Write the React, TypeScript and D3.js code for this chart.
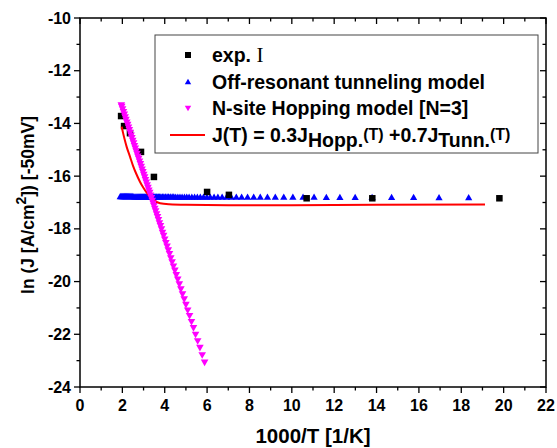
import React from "react";
import * as d3 from "d3";

// exp. I (black squares)
const expX = [1.94, 2.08, 2.36, 2.88, 3.49, 6.0, 7.03, 10.7, 13.8, 19.8];
const expY = [-13.72, -14.1, -14.37, -15.08, -16.03, -16.6, -16.71, -16.84, -16.84, -16.84];

// Off-resonant tunneling model (blue up-triangles)
const tunX = [
  1.9, 1.95, 2.0, 2.05, 2.1, 2.15, 2.2, 2.25, 2.3, 2.35, 2.4, 2.45, 2.5, 2.55, 2.6, 2.65,
  2.7, 2.75, 2.8, 2.85, 2.9, 2.95, 3.0, 3.05, 3.1, 3.15, 3.2, 3.25, 3.3, 3.35, 3.4, 3.45,
  3.5, 3.55, 3.6, 3.64, 3.7, 3.76, 3.82, 3.89, 3.96, 4.03, 4.11, 4.18, 4.26, 4.35, 4.43,
  4.52, 4.62, 4.72, 4.82, 4.93, 5.04, 5.15, 5.28, 5.41, 5.54, 5.68, 5.83, 5.99, 6.15, 6.33,
  6.51, 6.71, 6.92, 7.14, 7.38, 7.63, 7.91, 8.2, 8.51, 8.85, 9.22, 9.62, 10.05, 10.53,
  11.05, 11.63, 12.27, 12.99, 13.79, 14.71, 15.75, 16.95, 18.35,
];
const tunY = [
  -16.78, -16.78, -16.78, -16.78, -16.78, -16.78, -16.78, -16.78, -16.78, -16.78, -16.78,
  -16.78, -16.78, -16.79, -16.79, -16.79, -16.79, -16.79, -16.79, -16.79, -16.79, -16.79,
  -16.79, -16.79, -16.79, -16.79, -16.79, -16.79, -16.79, -16.79, -16.79, -16.79, -16.79,
  -16.79, -16.79, -16.79, -16.79, -16.79, -16.79, -16.79, -16.79, -16.79, -16.79, -16.79,
  -16.79, -16.79, -16.79, -16.8, -16.8, -16.8, -16.8, -16.8, -16.8, -16.8, -16.8, -16.8,
  -16.8, -16.8, -16.8, -16.8, -16.8, -16.8, -16.8, -16.8, -16.8, -16.8, -16.8, -16.8,
  -16.8, -16.8, -16.8, -16.8, -16.8, -16.8, -16.8, -16.8, -16.8, -16.81, -16.81, -16.81,
  -16.81, -16.81, -16.81, -16.82, -16.82,
];

// N-site Hopping model [N=3] (magenta down-triangles)
const hopX = [
  1.95, 1.97, 2.01, 2.05, 2.09, 2.13, 2.17, 2.21, 2.25, 2.29, 2.33, 2.37, 2.41, 2.45, 2.49,
  2.53, 2.57, 2.61, 2.65, 2.69, 2.73, 2.77, 2.81, 2.85, 2.89, 2.93, 2.97, 3.01, 3.05, 3.09,
  3.13, 3.17, 3.21, 3.25, 3.29, 3.33, 3.37, 3.41, 3.45, 3.49, 3.53, 3.571, 3.614, 3.659,
  3.704, 3.75, 3.797, 3.846, 3.896, 3.947, 4.0, 4.054, 4.11, 4.167, 4.225, 4.286, 4.348,
  4.412, 4.478, 4.545, 4.615, 4.688, 4.762, 4.839, 4.918, 5.0, 5.085, 5.172, 5.263, 5.357,
  5.455, 5.556, 5.66, 5.769, 5.882,
];
const hopY = [
  -13.3, -13.35, -13.45, -13.55, -13.65, -13.75, -13.85, -13.95, -14.04, -14.14, -14.24,
  -14.34, -14.44, -14.54, -14.64, -14.74, -14.84, -14.94, -15.04, -15.14, -15.24, -15.33,
  -15.43, -15.53, -15.63, -15.73, -15.83, -15.93, -16.03, -16.13, -16.23, -16.33, -16.43,
  -16.53, -16.62, -16.72, -16.82, -16.92, -17.02, -17.12, -17.22, -17.32, -17.43, -17.54,
  -17.65, -17.77, -17.88, -18.0, -18.13, -18.25, -18.39, -18.52, -18.66, -18.8, -18.94,
  -19.1, -19.25, -19.41, -19.57, -19.74, -19.91, -20.09, -20.28, -20.47, -20.66, -20.87,
  -21.08, -21.29, -21.52, -21.75, -22.0, -22.25, -22.5, -22.78, -23.06,
];

// J(T) = 0.3 J_Hopp + 0.7 J_Tunn (red line)
const mixX = [1.97, 2.03, 2.1, 2.2, 2.36, 2.5, 2.65, 2.83, 3.0, 3.15, 3.3, 3.5, 3.78, 4.2, 5.0, 7.0, 10.0, 14.0, 19.12];
const mixY = [-14.12, -14.35, -14.58, -14.88, -15.26, -15.6, -15.9, -16.21, -16.45, -16.63, -16.78, -16.92, -17.03, -17.07, -17.09, -17.1, -17.1, -17.09, -17.08];

const xTicks = [0, 2, 4, 6, 8, 10, 12, 14, 16, 18, 20, 22];
const yTicks = [-10, -12, -14, -16, -18, -20, -22, -24];

const W = 557;
const H = 448;
const FONT = "Arial, 'Liberation Sans', sans-serif";

export default function App() {
  const x = d3.scaleLinear().domain([0, 22]).range([80, 546]);
  const y = d3.scaleLinear().domain([-24, -10]).range([387, 18]);

  const minorX = d3.range(0, 23, 1);
  const minorY = d3.range(-24, -9, 1);

  const sq = 6.5;
  const triUp = (cx: number, cy: number, s = 7.2, h = 6.4) =>
    `M${cx},${cy - h * 0.6}L${cx + s / 2},${cy + h * 0.4}L${cx - s / 2},${cy + h * 0.4}Z`;
  const triDown = (cx: number, cy: number, s = 7.6, h = 6.6) =>
    `M${cx},${cy + h * 0.6}L${cx + s / 2},${cy - h * 0.4}L${cx - s / 2},${cy - h * 0.4}Z`;

  const line = d3
    .line<number>()
    .x((_, i) => x(mixX[i]))
    .y((d) => y(d))
    .curve(d3.curveMonotoneX);

  const x0 = x(0), x1 = x(22), yTop = y(-10), yBot = y(-24);

  return (
    <svg width={W} height={H} style={{ position: "absolute", left: 0, top: 0 }} fontFamily={FONT}>
      <rect x={0} y={0} width={W} height={H} fill="white" />
      <rect x={x0} y={yTop} width={x1 - x0} height={yBot - yTop} fill="none" stroke="black" strokeWidth={1.5} />
      {minorX.map((v) => (
        <line key={"bx" + v} x1={x(v)} x2={x(v)} y1={yBot} y2={yBot + (v % 2 === 0 ? 6 : 3.5)} stroke="black" strokeWidth={1.3} />
      ))}
      {minorX.map((v) => (
        <line key={"tx" + v} x1={x(v)} x2={x(v)} y1={yTop} y2={yTop + (v % 2 === 0 ? 6 : 3.5)} stroke="black" strokeWidth={1.3} />
      ))}
      {minorY.map((v) => (
        <line key={"ly" + v} x1={x0} x2={x0 - (v % 2 === 0 ? 6 : 3.5)} y1={y(v)} y2={y(v)} stroke="black" strokeWidth={1.3} />
      ))}
      {minorY.map((v) => (
        <line key={"ry" + v} x1={x1} x2={x1 - (v % 2 === 0 ? 6 : 3.5)} y1={y(v)} y2={y(v)} stroke="black" strokeWidth={1.3} />
      ))}
      {xTicks.map((v) => (
        <text key={"xt" + v} x={x(v)} y={yBot + 24} textAnchor="middle" fontSize={16} fontWeight="bold">
          {v}
        </text>
      ))}
      {yTicks.map((v) => (
        <text key={"yt" + v} x={x0 - 9} y={y(v) + 5.5} textAnchor="end" fontSize={16} fontWeight="bold">
          {v}
        </text>
      ))}
      <text x={313} y={443} textAnchor="middle" fontSize={20.5} fontWeight="bold">
        1000/T [1/K]
      </text>
      <text transform={`translate(34,205) rotate(-90)`} textAnchor="middle" fontSize={17.5} fontWeight="bold">
        ln (J [A/cm<tspan dy={-8} fontSize={14}>2</tspan>
        <tspan dy={8}>]) [-50mV]</tspan>
      </text>

      <g>
        {tunX.map((v, i) => (
          <path key={"tu" + i} d={triUp(x(v), y(tunY[i]))} fill="#0000ff" />
        ))}
        {expX.map((v, i) => (
          <rect key={"ex" + i} x={x(v) - sq / 2} y={y(expY[i]) - sq / 2} width={sq} height={sq} fill="black" />
        ))}
        <path d={line(mixY) || ""} fill="none" stroke="#ff0000" strokeWidth={2} />
        {hopX.map((v, i) => (
          <path key={"ho" + i} d={triDown(x(v), y(hopY[i]))} fill="#ff00ff" />
        ))}
      </g>

      <rect x={155} y={35} width={383} height={118} fill="white" stroke="#444" strokeWidth={1} />
      <rect x={188 - 3} y={55 - 3} width={6} height={6} fill="black" />
      <text x={212} y={62} fontSize={19.5} fontWeight="bold">
        exp. <tspan fontFamily="'Liberation Serif', 'Times New Roman', serif" fontWeight="normal" fontSize={21}>I</tspan>
      </text>
      <path d={triUp(188, 82, 6.4, 5.6)} fill="#0000ff" />
      <text x={212} y={89} fontSize={19.5} fontWeight="bold">
        Off-resonant tunneling model
      </text>
      <path d={triDown(188, 108, 6.4, 5.6)} fill="#ff00ff" />
      <text x={212} y={115} fontSize={19.5} fontWeight="bold">
        N-site Hopping model [N=3]
      </text>
      <line x1={170} x2={205} y1={135} y2={135} stroke="#ff0000" strokeWidth={2} />
      <text x={212} y={142} fontSize={19.5} fontWeight="bold">
        J(T) = 0.3J<tspan dy={5}>Hopp.</tspan>
        <tspan dy={-7} fontSize={16}>(T)</tspan>
        <tspan dy={2}> +0.7J</tspan>
        <tspan dy={5}>Tunn.</tspan>
        <tspan dy={-7} fontSize={16}>(T)</tspan>
      </text>
    </svg>
  );
}
